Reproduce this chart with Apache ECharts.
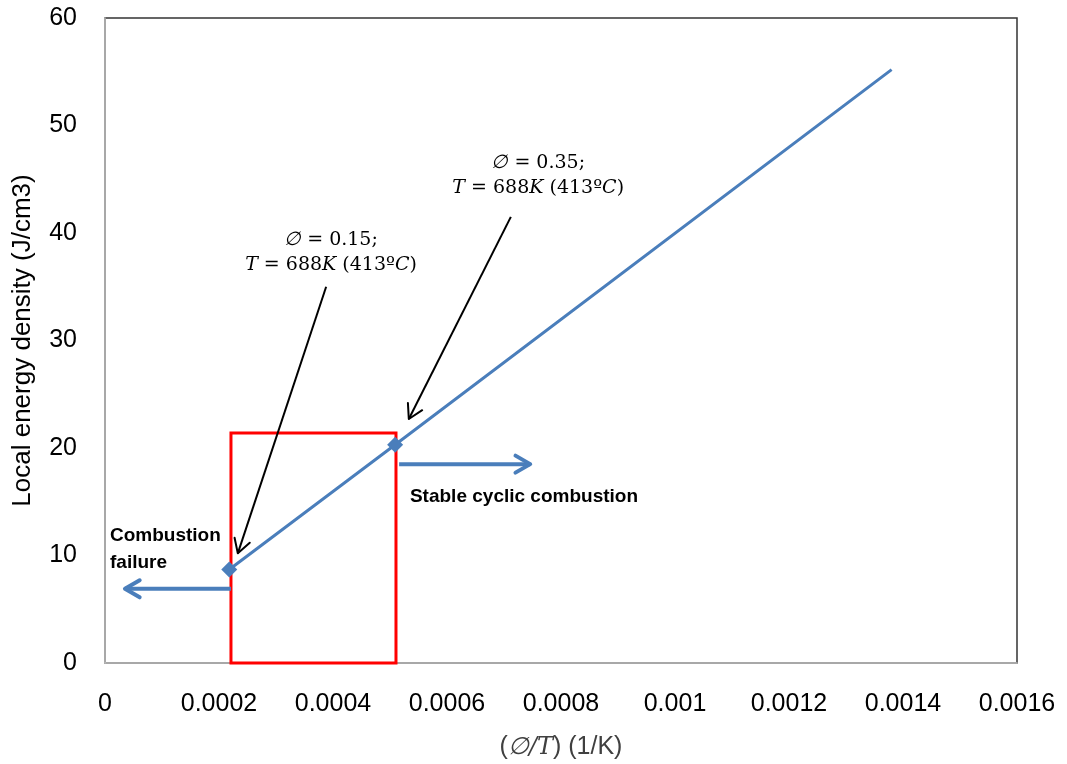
<!DOCTYPE html>
<html>
<head>
<meta charset="utf-8">
<title>Local energy density vs equivalence ratio over temperature</title>
<script src="https://cdn.jsdelivr.net/npm/echarts@6/dist/echarts.min.js"></script>
<style>
  html, body { margin: 0; padding: 0; background: #ffffff; }
  #chart { width: 1067px; height: 764px; }
</style>
</head>
<body>
<div id="chart"></div>
<script>
// Local energy density against (phi / T)
const phiOverT = [0.000218, 0.000509, 0.00138];
const energyDensity = [8.7, 20.3, 55.2];
// only the two operating points carry a marker
const markerShown = [true, true, false];

// x-axis tick labels
const xTickLabels = ['0', '0.0002', '0.0004', '0.0006', '0.0008', '0.001', '0.0012', '0.0014', '0.0016'];
const yTicks = [0, 10, 20, 30, 40, 50, 60];

// highlighted transition window: [x0, y0, x1, y1]
const transitionBox = [0.000221, 0, 0.0005105, 21.4];

// regime arrows (blue) and callout arrows (black): [xStart, yStart, xEnd, yEnd]
const regimeArrows = [
  [0.000221, 6.9, 0.000035, 6.9],
  [0.000516, 18.5, 0.000746, 18.5]
];
const calloutArrows = [
  [0.000388, 35.0, 0.000233, 10.2],
  [0.000712, 41.5, 0.000533, 22.7]
];

// text annotations: [x, y]
const calloutTextAnchors = [
  [0.0003965, 38.2],
  [0.00076, 45.3]
];
const calloutTexts = [
  '{m|∅} = 0.15;\n{i|T} = 688{i|K} (413º{i|C})',
  '{m|∅} = 0.35;\n{i|T} = 688{i|K} (413º{i|C})'
];
const regimeTextAnchors = [
  [0.0000088, 10.55],
  [0.000535, 15.44]
];
const regimeTexts = ['Combustion\nfailure', 'Stable cyclic combustion'];

const BLUE = '#4a7ebb';

function arrowItem(color, width, headLen) {
  return function (params, api) {
    const p1 = api.coord([api.value(0), api.value(1)]);
    const p2 = api.coord([api.value(2), api.value(3)]);
    const a = Math.atan2(p2[1] - p1[1], p2[0] - p1[0]);
    const t = Math.PI / 6;
    const h1 = [p2[0] - headLen * Math.cos(a - t), p2[1] - headLen * Math.sin(a - t)];
    const h2 = [p2[0] - headLen * Math.cos(a + t), p2[1] - headLen * Math.sin(a + t)];
    return {
      type: 'group',
      children: [
        { type: 'line', shape: { x1: p1[0], y1: p1[1], x2: p2[0], y2: p2[1] },
          style: { stroke: color, lineWidth: width } },
        { type: 'polyline', shape: { points: [h1, p2, h2] },
          style: { stroke: color, lineWidth: width, fill: 'none', lineCap: 'round', lineJoin: 'round' } }
      ]
    };
  };
}

function textItem(texts, styleFn) {
  return function (params, api) {
    const p = api.coord([api.value(0), api.value(1)]);
    return {
      type: 'text',
      x: p[0],
      y: p[1],
      style: Object.assign({ text: texts[params.dataIndex] }, styleFn())
    };
  };
}

const chart = echarts.init(document.getElementById('chart'), null, { renderer: 'canvas' });

chart.setOption({
  backgroundColor: '#ffffff',
  animation: false,
  grid: {
    left: 105, right: 50, top: 18, bottom: 101,
    outerBoundsMode: 'none',
    containLabel: false,
    show: true, borderColor: '#333333', borderWidth: 1.5, backgroundColor: 'transparent'
  },
  xAxis: {
    type: 'value',
    min: 0, max: 0.0016, interval: 0.0002,
    name: '({m|∅/T}) (1/K)',
    nameLocation: 'middle',
    nameGap: 72,
    nameTextStyle: {
      fontFamily: 'Liberation Sans', fontSize: 25, color: '#404040',
      rich: { m: { fontFamily: 'DejaVu Serif', fontStyle: 'italic', fontSize: 24, color: '#404040' } }
    },
    axisLine: { show: true, onZero: false, lineStyle: { color: '#bfbfbf', width: 1.5 } },
    axisTick: { show: false },
    splitLine: { show: false },
    axisLabel: {
      margin: 29,
      fontFamily: 'Liberation Sans', fontSize: 25, color: '#000000',
      formatter: function (v) {
        const i = Math.round(v / 0.0002);
        return xTickLabels[i] !== undefined ? xTickLabels[i] : '';
      }
    }
  },
  yAxis: {
    type: 'value',
    min: yTicks[0], max: yTicks[yTicks.length - 1], interval: 10,
    name: 'Local energy density (J/cm3)',
    nameLocation: 'middle',
    nameRotate: 90,
    nameGap: 69,
    nameTextStyle: { fontFamily: 'Liberation Sans', fontSize: 26, color: '#000000' },
    axisLine: { show: true, onZero: false, lineStyle: { color: '#bfbfbf', width: 1.5 } },
    axisTick: { show: false },
    splitLine: { show: false },
    axisLabel: { margin: 28, fontFamily: 'Liberation Sans', fontSize: 25, color: '#000000' }
  },
  series: [
    {
      name: 'Local energy density',
      type: 'line',
      data: phiOverT.map((x, i) => ({
        value: [x, energyDensity[i]],
        symbol: markerShown[i] ? 'diamond' : 'none',
        symbolSize: markerShown[i] ? 16 : 0
      })),
      showSymbol: true,
      itemStyle: { color: BLUE },
      lineStyle: { color: BLUE, width: 3 },
      z: 3,
      markArea: {
        silent: true,
        itemStyle: { color: 'rgba(0,0,0,0)', borderColor: '#ff0000', borderWidth: 3 },
        data: [[
          { coord: [transitionBox[0], transitionBox[1]] },
          { coord: [transitionBox[2], transitionBox[3]] }
        ]]
      }
    },
    {
      type: 'custom',
      name: 'regime arrows',
      renderItem: arrowItem(BLUE, 4, 17),
      data: regimeArrows,
      z: 4,
      silent: true
    },
    {
      type: 'custom',
      name: 'callout arrows',
      renderItem: arrowItem('#000000', 2, 16),
      data: calloutArrows,
      z: 5,
      silent: true
    },
    {
      type: 'custom',
      name: 'callout text',
      renderItem: textItem(calloutTexts, function () {
        return {
          fill: '#000000',
          font: '19px "DejaVu Serif"',
          align: 'center',
          verticalAlign: 'middle',
          lineHeight: 25,
          rich: {
            i: { fontFamily: 'DejaVu Serif', fontStyle: 'italic', fontSize: 19, lineHeight: 25 },
            m: { fontFamily: 'DejaVu Serif', fontStyle: 'italic', fontSize: 19, lineHeight: 25 }
          }
        };
      }),
      data: calloutTextAnchors,
      z: 6,
      silent: true
    },
    {
      type: 'custom',
      name: 'regime text',
      renderItem: textItem(regimeTexts, function () {
        return {
          fill: '#000000',
          font: 'bold 19px "Liberation Sans"',
          align: 'left',
          verticalAlign: 'middle',
          lineHeight: 27
        };
      }),
      data: regimeTextAnchors,
      z: 6,
      silent: true
    }
  ]
});
</script>
</body>
</html>
